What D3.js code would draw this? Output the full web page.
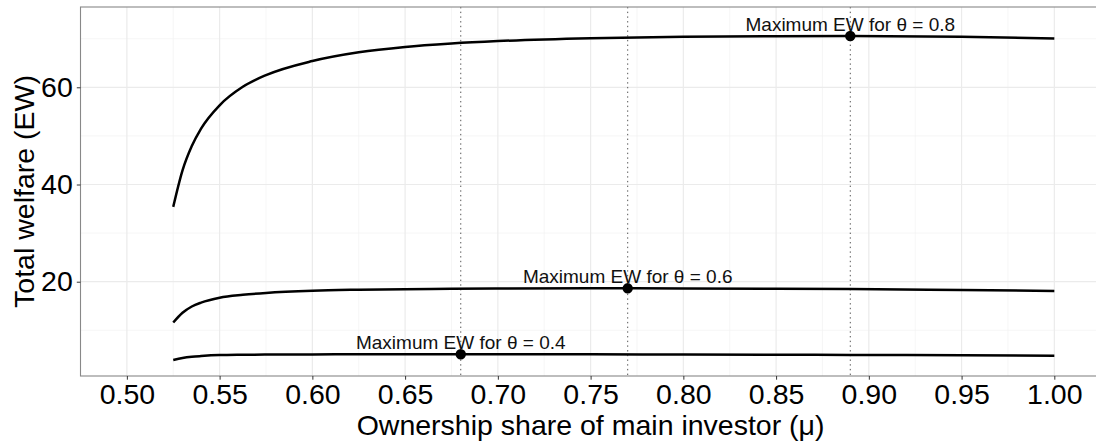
<!DOCTYPE html>
<html>
<head>
<meta charset="utf-8">
<script src="https://cdn.jsdelivr.net/npm/d3@7"></script>
<style>
  html, body { margin: 0; padding: 0; background: #fff; }
  svg { display: block; font-family: "Liberation Sans", Arial, Helvetica, sans-serif; }
</style>
</head>
<body>
<svg id="chart" width="1096" height="442"></svg>
<script>
// ---- data ----
const mu = [0.525, 0.53, 0.535, 0.54, 0.55, 0.5625, 0.575, 0.6, 0.625, 0.65, 0.675, 0.7, 0.75, 0.8, 0.85, 0.89, 0.95, 1.0];
const ewTheta08 = [35.4, 42.9, 47.9, 51.5, 56.3, 60.1, 62.5, 65.4, 67.2, 68.3, 69.0, 69.5, 70.1, 70.4, 70.52, 70.55, 70.4, 70.05];
const ewTheta06 = [11.6, 13.6, 14.9, 15.7, 16.7, 17.3, 17.7, 18.15, 18.35, 18.47, 18.54, 18.59, 18.64, 18.62, 18.56, 18.48, 18.3, 18.1];
const ewTheta04 = [3.9, 4.3, 4.55, 4.7, 4.9, 4.97, 5.01, 5.04, 5.06, 5.07, 5.07, 5.07, 5.06, 5.03, 4.98, 4.93, 4.87, 4.78];
const maxMu = [0.68, 0.77, 0.89];
const maxEW = [5.07, 18.64, 70.55];
const maxLabels = ["Maximum EW for \u03b8 = 0.4", "Maximum EW for \u03b8 = 0.6", "Maximum EW for \u03b8 = 0.8"];
const xTicks = [0.50, 0.55, 0.60, 0.65, 0.70, 0.75, 0.80, 0.85, 0.90, 0.95, 1.00];
const xMinor = [0.525, 0.575, 0.625, 0.675, 0.725, 0.775, 0.825, 0.875, 0.925, 0.975];
const yTicks = [20, 40, 60];
const yMinor = [10, 30, 50, 70];
const xTitle = "Ownership share of main investor (\u03bc)";
const yTitle = "Total welfare (EW)";

// ---- layout ----
const pLeft = 80.5, pRight = 1100.7, pTop = 7, pBottom = 376;
const bigFont = "28.5px";
const svg = d3.select("#chart");
const x = d3.scaleLinear().domain([0.475, 1.025]).range([pLeft, pRight]);
const y = d3.scaleLinear().domain([0.6, 76.52]).range([pBottom, pTop]);

svg.append("defs").append("clipPath").attr("id", "clip")
  .append("rect").attr("x", pLeft).attr("y", pTop).attr("width", pRight - pLeft).attr("height", pBottom - pTop);

const panel = svg.append("g").attr("clip-path", "url(#clip)");

// grid
panel.selectAll(".xminor").data(xMinor).join("line")
  .attr("x1", d => x(d)).attr("x2", d => x(d)).attr("y1", pTop).attr("y2", pBottom)
  .attr("stroke", "#f2f2f2").attr("stroke-width", 0.7);
panel.selectAll(".yminor").data(yMinor).join("line")
  .attr("x1", pLeft).attr("x2", pRight).attr("y1", d => y(d)).attr("y2", d => y(d))
  .attr("stroke", "#f2f2f2").attr("stroke-width", 0.7);
panel.selectAll(".xmajor").data(xTicks).join("line")
  .attr("x1", d => x(d)).attr("x2", d => x(d)).attr("y1", pTop).attr("y2", pBottom)
  .attr("stroke", "#ebebeb").attr("stroke-width", 1.2);
panel.selectAll(".ymajor").data(yTicks).join("line")
  .attr("x1", pLeft).attr("x2", pRight).attr("y1", d => y(d)).attr("y2", d => y(d))
  .attr("stroke", "#ebebeb").attr("stroke-width", 1.2);

// dotted vlines
panel.selectAll(".vl").data(maxMu).join("line")
  .attr("x1", d => x(d)).attr("x2", d => x(d)).attr("y1", pTop).attr("y2", pBottom)
  .attr("stroke", "#555").attr("stroke-width", 1).attr("stroke-dasharray", "1.4,3.3");

// curves
const line = d3.line().x(d => x(d[0])).y(d => y(d[1])).curve(d3.curveMonotoneX);
[ewTheta04, ewTheta06, ewTheta08].forEach(series => {
  panel.append("path")
    .attr("d", line(mu.map((m, i) => [m, series[i]])))
    .attr("fill", "none").attr("stroke", "#000").attr("stroke-width", 2.5)
    .attr("stroke-linejoin", "round").attr("stroke-linecap", "butt");
});

// max points
panel.selectAll(".pt").data(maxMu).join("circle")
  .attr("cx", d => x(d)).attr("cy", (d, i) => y(maxEW[i])).attr("r", 5.2).attr("fill", "#000");

// labels
panel.selectAll(".lbl").data(maxMu).join("text")
  .attr("x", d => x(d)).attr("y", (d, i) => y(maxEW[i])).attr("dy", -5)
  .attr("text-anchor", "middle").attr("font-size", "19px").attr("fill", "#111")
  .text((d, i) => maxLabels[i]);

// border
svg.append("rect").attr("x", pLeft).attr("y", pTop).attr("width", pRight - pLeft).attr("height", pBottom - pTop)
  .attr("fill", "none").attr("stroke", "#888").attr("stroke-width", 1.1);

// axes
const xAxis = d3.axisBottom(x).tickValues(xTicks).tickFormat(d3.format(".2f")).tickSize(3.7).tickPadding(4);
const gx = svg.append("g").attr("transform", `translate(0,${pBottom})`).call(xAxis);
gx.select(".domain").remove();
gx.selectAll(".tick line").attr("stroke", "#333");
gx.selectAll(".tick text").attr("font-size", bigFont).attr("fill", "#000").attr("font-family", "Liberation Sans, Arial, sans-serif");

const yAxis = d3.axisLeft(y).tickValues(yTicks).tickSize(3.7).tickPadding(4);
const gy = svg.append("g").attr("transform", `translate(${pLeft},0)`).call(yAxis);
gy.select(".domain").remove();
gy.selectAll(".tick line").attr("stroke", "#333");
gy.selectAll(".tick text").attr("font-size", bigFont).attr("fill", "#000").attr("font-family", "Liberation Sans, Arial, sans-serif");

// titles
svg.append("text").attr("x", (pLeft + pRight) / 2).attr("y", 435)
  .attr("text-anchor", "middle").attr("font-size", bigFont).attr("fill", "#000").text(xTitle);
svg.append("text").attr("transform", `translate(34,${(pTop + pBottom) / 2}) rotate(-90)`)
  .attr("text-anchor", "middle").attr("font-size", bigFont).attr("fill", "#000").text(yTitle);
</script>
</body>
</html>
